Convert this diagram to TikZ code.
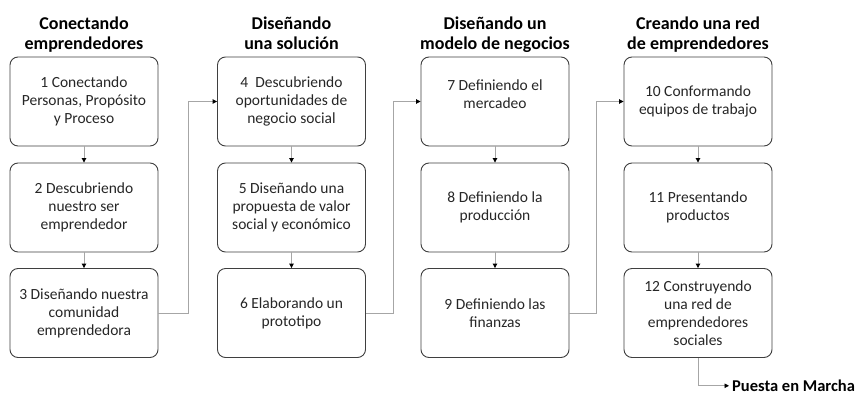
\documentclass[tikz,border=0pt]{standalone}
\usepackage{fontspec}
\setmainfont{Carlito}
\usetikzlibrary{arrows.meta,calc}
\definecolor{boxline}{HTML}{3F3F3F}
\definecolor{connline}{HTML}{A6A6A6}
\definecolor{txt}{HTML}{262626}
\tikzset{
  stepbox/.style={draw=boxline, line width=0.9pt, rounded corners=8pt, minimum width=148pt, minimum height=89pt, align=center, text=txt, inner sep=2pt, font=\fontsize{15.5}{18}\selectfont},
  phase/.style={align=center, anchor=north, inner sep=0pt, font=\fontsize{18}{20}\selectfont\bfseries},
  conn/.style={draw=connline, line width=0.9pt, -{Triangle[length=4.5pt,width=4.5pt,color=black]}}
}
\begin{document}
\begin{tikzpicture}[x=1pt,y=-1pt]
\useasboundingbox (0,0) rectangle (868,394);
% titles
\node[phase] (t1) at (84,16.5) {Conectando\\emprendedores};
\node[phase] (t2) at (291.5,16.5) {Diseñando\\una solución};
\node[phase] (t3) at (495,16.5) {Diseñando un\\modelo de negocios};
\node[phase] (t4) at (698,16.5) {Creando una red\\de emprendedores};
% column 1
\node[stepbox] (b1) at (84,101.5) {1 Conectando\\Personas, Propósito\\y Proceso};
\node[stepbox] (b2) at (84,207.5) {2 Descubriendo\\nuestro ser\\emprendedor};
\node[stepbox] (b3) at (84,313) {3 Diseñando nuestra\\comunidad\\emprendedora};
% column 2
\node[stepbox] (b4) at (291.5,101.5) {4 \ Descubriendo\\oportunidades de\\negocio social};
\node[stepbox] (b5) at (291.5,207.5) {5 Diseñando una\\propuesta de valor\\social y económico};
\node[stepbox] (b6) at (291.5,313) {6 Elaborando un\\prototipo};
% column 3
\node[stepbox, text depth=14pt] (b7) at (495,101.5) {7 Definiendo el\\mercadeo};
\node[stepbox] (b8) at (495,207.5) {8 Definiendo la\\producción};
\node[stepbox] (b9) at (495,313) {9 Definiendo las\\finanzas};
% column 4
\node[stepbox] (b10) at (698,101.5) {10 Conformando\\equipos de trabajo};
\node[stepbox] (b11) at (698,207.5) {11 Presentando\\productos};
\node[stepbox] (b12) at (698,313) {12 Construyendo\\una red de\\emprendedores\\sociales};
% end label
\node[anchor=base west, inner sep=3pt, font=\fontsize{16.5}{20}\selectfont\bfseries] (pm) at (729,391.5) {Puesta en Marcha};
% junction x positions
\coordinate (j1) at (188,0);
\coordinate (j2) at (393.5,0);
\coordinate (j3) at (596.5,0);
% vertical connectors
\draw[conn] (b1) -- (b2);
\draw[conn] (b2) -- (b3);
\draw[conn] (b4) -- (b5);
\draw[conn] (b5) -- (b6);
\draw[conn] (b7) -- (b8);
\draw[conn] (b8) -- (b9);
\draw[conn] (b10) -- (b11);
\draw[conn] (b11) -- (b12);
% column links
\draw[conn] (b3.east) -- (b3.east -| j1) |- (b4.west);
\draw[conn] (b6.east) -- (b6.east -| j2) |- (b7.west);
\draw[conn] (b9.east) -- (b9.east -| j3) |- (b10.west);
\draw[conn] (b12.south) |- (pm.west);
\end{tikzpicture}
\end{document}
